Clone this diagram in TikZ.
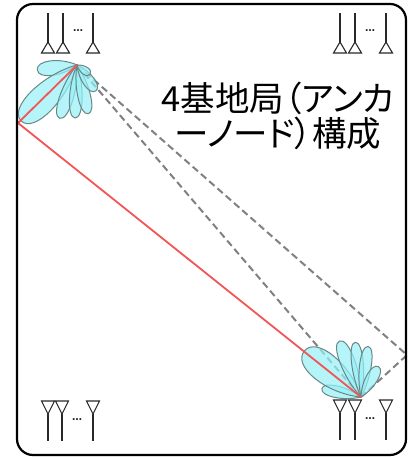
\documentclass[tikz,border=0pt]{standalone}
\usepackage{fontspec}
\newfontfamily\jpfont[RawFeature=+palt]{Noto Sans CJK JP}
\newfontfamily\dotfont{DejaVu Sans}
\definecolor{lobefill}{RGB}{150,240,247}
\definecolor{lobeedge}{RGB}{105,135,135}
\definecolor{raygray}{RGB}{128,128,128}
\definecolor{rayred}{RGB}{242,85,85}
\definecolor{antcol}{RGB}{40,40,40}
% one beam lobe: source x, source y, direction, length, half width
\newcommand\drawlobe[5]{%
  \begin{scope}[shift={(#1,#2)},rotate=#3]
    \path[lobe] (0,0) .. controls ({0.4*#4},{1.3*#5}) and ({#4},{1.3*#5}) .. ({#4},0)
      .. controls ({#4},{-1.3*#5}) and ({0.4*#4},{-1.3*#5}) .. (0,0);
  \end{scope}}
\begin{document}
\begin{tikzpicture}[x=1pt,y=-1pt,
  frame/.style={draw=black, line width=2.2pt, rounded corners=16pt},
  lobe/.style={draw=lobeedge, line width=1pt, fill=lobefill, fill opacity=0.7},
  altray/.style={draw=raygray, line width=2pt, dash pattern=on 7pt off 4pt},
  mainray/.style={draw=rayred, line width=1.8pt},
  ant/.style={draw=antcol, line width=1.1pt},
  dotsnode/.style={font=\dotfont\bfseries\fontsize{10}{10}\selectfont, inner sep=0pt, text=antcol},
  antup/.pic={\draw[ant] (0,0) -- (0,-29); \draw[ant] (0,0) -- (-6.5,11) -- (6.5,11) -- cycle;},
  antdn/.pic={\draw[ant] (0,0) -- (0,27); \draw[ant] (0,0) -- (-6.5,-13) -- (6.5,-13) -- cycle;}
]
\useasboundingbox (0,0) rectangle (417,457);

% beam sources and reflection points
\coordinate (S1) at (77,65);
\coordinate (S2) at (361,397);
\coordinate (R1) at (18,123);
\coordinate (R2) at (407,355);

% candidate paths
\draw[altray] (S1) -- (S2);
\draw[altray] (S1) -- (R2) -- (S2);

% beam lobes of the upper left station
\drawlobe{77}{65}{187}{40}{7.5}
\drawlobe{77}{65}{225}{79}{14}
\drawlobe{77}{65}{252}{56}{7}
\drawlobe{77}{65}{268}{53}{6.5}
\drawlobe{77}{65}{283}{50}{6.5}
\drawlobe{77}{65}{306}{32}{6}
\drawlobe{77}{65}{325}{16}{4}

% beam lobes of the lower right station
\drawlobe{361}{397}{168}{40}{6}
\drawlobe{361}{397}{141}{73}{15}
\drawlobe{361}{397}{111}{60}{7.5}
\drawlobe{361}{397}{96}{55}{6}
\drawlobe{361}{397}{82}{51}{6}
\drawlobe{361}{397}{60}{35}{6}

% selected path
\draw[mainray] (S1) -- (R1) -- (S2);

% antenna arrays
\pic at (48,42) {antup}; \pic at (63,42) {antup}; \pic at (93,42) {antup};
\node[dotsnode] (dTL) at (78,31) {…};
\pic at (340,42) {antup}; \pic at (355,42) {antup}; \pic at (386,42) {antup};
\node[dotsnode] (dTR) at (370,31) {…};
\pic at (48,414) {antdn}; \pic at (62,414) {antdn}; \pic at (93,414) {antdn};
\node[dotsnode] (dBL) at (77,420) {…};
\pic at (340,413) {antdn}; \pic at (355,413) {antdn}; \pic at (386,413) {antdn};
\node[dotsnode] (dBR) at (370,419) {…};

% room outline
\draw[frame] (17,4) rectangle (406,455);

% caption
\node[font=\jpfont\fontsize{34.5}{35}\selectfont, align=center, inner sep=0pt] (title) at (278,116)
  {4基地局（アンカ\\ーノード）構成};
\end{tikzpicture}
\end{document}
